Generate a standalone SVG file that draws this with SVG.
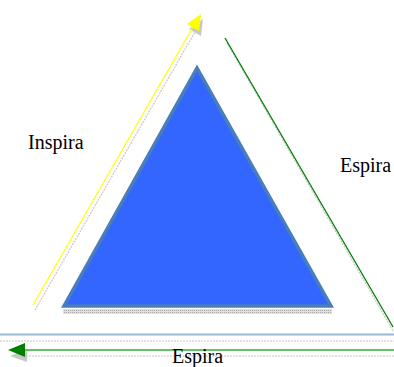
<svg xmlns="http://www.w3.org/2000/svg" width="394" height="367" viewBox="0 0 394 367">
<style>
.lbl{font-family:"Liberation Serif","Times New Roman",serif;font-size:20px;fill:#000}
.shadow{stroke:#c8c8c8;stroke-width:1.2;stroke-dasharray:2,1;fill:none}
</style>
<defs>
<pattern id="dots" width="2" height="2" patternUnits="userSpaceOnUse">
<rect width="2" height="2" fill="#e0e0e0"/>
<rect width="1" height="1" fill="#a8a8a8"/>
</pattern>
</defs>
<rect width="394" height="367" fill="#fff"/>
<g id="triangle">
<rect x="63" y="309" width="269" height="5" fill="url(#dots)"/>
<polygon points="197,68 64,306 331,306" fill="#3366ff" stroke="#4a7ebb" stroke-width="3.5" stroke-linejoin="miter"/>
</g>
<g id="connectors">
<g id="inspira-arrow">
<line x1="35" y1="310" x2="195" y2="32" class="shadow"/>
<polygon points="203,19 189,29 201,36" fill="#c8c8c8"/>
<line x1="33" y1="305" x2="193" y2="27" stroke="#ffff00" stroke-width="1.2"/>
<polygon points="201,14 187,24 199,31" fill="#ffff00"/>
</g>
<g id="espira-right">
<line x1="227" y1="43" x2="393" y2="331" class="shadow"/>
<line x1="225" y1="38" x2="393" y2="327" stroke="#008000" stroke-width="1.3"/>
</g>
<g id="baseline">
<line x1="0" y1="341" x2="394" y2="341" class="shadow"/>
<line x1="0" y1="334.5" x2="394" y2="334.5" stroke="#9bb7d9" stroke-width="2"/>
</g>
<g id="espira-bottom">
<line x1="26" y1="356" x2="394" y2="356" class="shadow"/>
<polygon points="10,356 27,349 27,362" fill="#c8c8c8"/>
<line x1="22" y1="350" x2="394" y2="350" stroke="#66c266" stroke-width="2"/>
<polygon points="8,350 25,343 25,357" fill="#008000"/>
</g>
</g>
<g id="label-inspira"><text class="lbl" x="28" y="149">Inspira</text></g>
<g id="label-espira-right"><text class="lbl" x="340" y="172">Espira</text></g>
<g id="label-espira-bottom"><text class="lbl" x="172" y="363">Espira</text></g>
</svg>
